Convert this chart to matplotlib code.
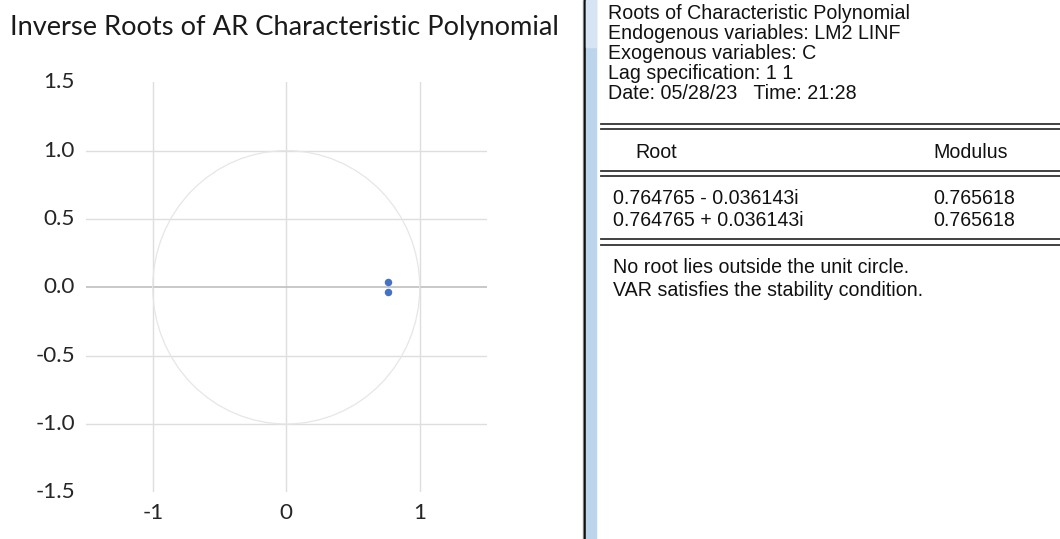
import matplotlib.pyplot as plt
from matplotlib.patches import Circle, Rectangle
from matplotlib.lines import Line2D

# VAR stability: inverse roots of the AR characteristic polynomial
root_re = [0.764765, 0.764765]
root_im = [-0.036143, 0.036143]
modulus = [0.765618, 0.765618]

x_ticks = [-1, 0, 1]
y_ticks = [1.5, 1.0, 0.5, 0.0, -0.5, -1.0, -1.5]
y_grid = [1.0, 0.5, -0.5, -1.0]

header_lines = [
    'Roots of Characteristic Polynomial',
    'Endogenous variables: LM2 LINF',
    'Exogenous variables: C',
    'Lag specification: 1 1',
    'Date: 05/28/23   Time: 21:28',
]
footer_lines = [
    'No root lies outside the unit circle.',
    'VAR satisfies the stability condition.',
]

W, H = 1060, 539
fig = plt.figure(figsize=(W / 100, H / 100), dpi=100)


def fx(px):
    return px / W


def fy(py):
    return 1 - py / H


def pt(px):
    return px * 0.72


# ---- chart on the left
left, right, top, bottom = 86, 486.5, 82.3, 492.3
ax = fig.add_axes([fx(left), fy(bottom), fx(right - left), (bottom - top) / H])
ax.set_xlim(-1.5, 1.5)
ax.set_ylim(-1.5, 1.5)
for s in ax.spines.values():
    s.set_visible(False)
ax.set_xticks([])
ax.set_yticks([])

for x in x_ticks:
    ax.plot([x, x], [-1.5, 1.5], color='#dedede', lw=1.0, zorder=1)
for y in y_grid:
    ax.plot([-1.5, 1.5], [y, y], color='#dedede', lw=1.0, zorder=1)
ax.plot([-1.5, 1.5], [0, 0], color='#bfbfbf', lw=1.2, zorder=2)
ax.add_patch(Circle((0, 0), 1, fill=False, ec='#e6e6e6', lw=0.9, zorder=2))
ax.plot(root_re, root_im, 'o', color='#4472c4', ms=5.4, mec='none', zorder=3)

tick_font = 'Lato'
px_x, px_y = 133.5, 136.6   # pixels per data unit
for y in y_ticks:
    ax.text(-1.5 - 11 / px_x, y, f'{y:.1f}', ha='right', va='center',
            fontsize=pt(22.5), family=tick_font, color='#262626')
for x in x_ticks:
    ax.text(x, -1.5 - 11 / px_y, f'{x}', ha='center', va='top',
            fontsize=pt(22.5), family=tick_font, color='#262626')

fig.text(fx(10), fy(35), 'Inverse Roots of AR Characteristic Polynomial',
         ha='left', va='baseline', fontsize=pt(27.3), family=tick_font, color='#1a1a1a')

# ---- splitter bar
fig.add_artist(Rectangle((fx(583), 0), fx(1), 1, color='#9a9a9a', transform=fig.transFigure))
fig.add_artist(Rectangle((fx(584), 0), fx(1.6), 1, color='#101010', transform=fig.transFigure))
fig.add_artist(Rectangle((fx(586), 0), fx(10), 1, color='#bcd5ec', transform=fig.transFigure))
fig.add_artist(Rectangle((fx(586), fy(47)), fx(10), 47 / H, color='#d6e4f3', transform=fig.transFigure))

# ---- output table on the right
txt = dict(family='Liberation Sans', fontsize=pt(19.6), color='#111111',
           ha='left', va='baseline')
for i, line in enumerate(header_lines):
    fig.text(fx(608), fy(19 + 20 * i), line, **txt)


def double_rule(y1, y2):
    for y in (y1, y2):
        fig.add_artist(Line2D([fx(601), 1], [fy(y), fy(y)], color='#333333',
                              lw=1.3, transform=fig.transFigure))


double_rule(124, 128.5)
fig.text(fx(635), fy(158), 'Root', **txt)
fig.text(fx(933), fy(158), 'Modulus', **txt)
double_rule(171, 176)
for i, (re, im, m) in enumerate(zip(root_re, root_im, modulus)):
    sign = '-' if im < 0 else '+'
    yb = 204 + 21.5 * i
    fig.text(fx(613), fy(yb), f'{re:.6f} {sign} {abs(im):.6f}i', **txt)
    fig.text(fx(933), fy(yb), f'{m:.6f}', **txt)
double_rule(239.5, 245)
for i, line in enumerate(footer_lines):
    fig.text(fx(613), fy(273 + 23 * i), line, **txt)

fig.savefig('out.png', dpi=100, facecolor='white')
